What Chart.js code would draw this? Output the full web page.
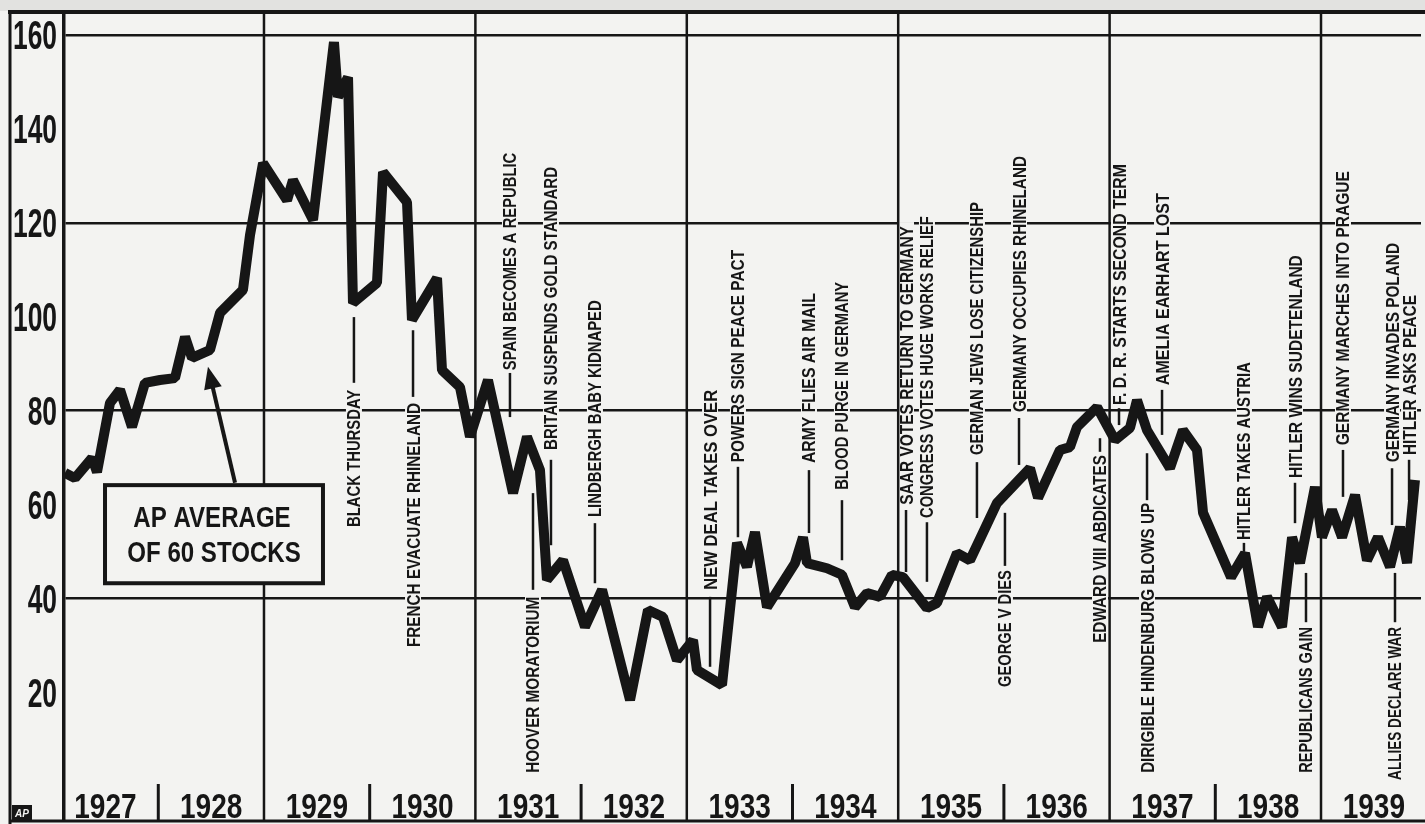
<!DOCTYPE html>
<html lang="en">
<head>
<meta charset="UTF-8">
<title>AP Average of 60 Stocks, 1927-1939</title>
<script src="https://cdn.jsdelivr.net/npm/chart.js"></script>
<style>
  html, body { margin: 0; padding: 0; background: #f3f3f1; }
  canvas { display: block; }
</style>
</head>
<body>
<canvas id="stockChart" width="1425" height="824"></canvas>
<script>
// stock average (x = date as decimal year)
const dates = [
  1927.117, 1927.212, 1927.373, 1927.420, 1927.543, 1927.638, 1927.751, 1927.874,
  1928.016, 1928.158, 1928.253, 1928.319, 1928.489, 1928.584, 1928.801, 1928.868,
  1928.991, 1929.218, 1929.274, 1929.464, 1929.662, 1929.700, 1929.795, 1929.842,
  1930.069, 1930.126, 1930.353, 1930.400, 1930.637, 1930.684, 1930.854, 1930.949,
  1931.119, 1931.356, 1931.488, 1931.611, 1931.677, 1931.829, 1932.037, 1932.198,
  1932.463, 1932.633, 1932.775, 1932.907, 1933.059, 1933.096, 1933.333, 1933.475,
  1933.569, 1933.645, 1933.759, 1934.024, 1934.099, 1934.137, 1934.326, 1934.468,
  1934.591, 1934.705, 1934.828, 1934.941, 1935.045, 1935.272, 1935.367, 1935.556,
  1935.679, 1935.935, 1936.247, 1936.323, 1936.531, 1936.625, 1936.692, 1936.881,
  1937.051, 1937.193, 1937.259, 1937.354, 1937.571, 1937.694, 1937.827, 1937.884,
  1938.149, 1938.281, 1938.404, 1938.489, 1938.631, 1938.726, 1938.801, 1938.943,
  1939.009, 1939.104, 1939.199, 1939.322, 1939.435, 1939.539, 1939.653, 1939.747,
  1939.814, 1939.889
];
const avgValues = [
  66.7, 65.6, 69.9, 66.9, 81.6, 84.4, 76.5, 85.9,
  86.5, 86.9, 95.7, 91.2, 92.9, 100.8, 105.7, 117.4,
  132.7, 124.8, 129.1, 120.6, 158.5, 146.8, 151.0, 102.9,
  107.2, 130.8, 124.4, 99.3, 108.2, 88.6, 85.0, 74.4,
  86.5, 62.4, 74.4, 67.3, 43.9, 48.1, 33.9, 41.8,
  18.3, 37.5, 36.0, 26.8, 31.1, 24.7, 21.5, 51.8,
  46.7, 54.1, 38.1, 47.5, 53.0, 47.5, 46.4, 45.0,
  38.1, 41.1, 40.3, 45.0, 44.5, 37.9, 39.0, 49.6,
  48.1, 60.3, 67.7, 61.4, 71.6, 72.2, 76.5, 80.7,
  73.7, 76.3, 82.2, 75.8, 67.7, 75.8, 71.6, 58.2,
  44.5, 49.6, 33.9, 40.3, 33.9, 53.0, 47.5, 63.7,
  53.0, 58.8, 53.0, 62.0, 48.1, 53.0, 46.7, 55.2,
  47.5, 65.2
];
const yearLabels = ["1927", "1928", "1929", "1930", "1931", "1932", "1933",
  "1934", "1935", "1936", "1937", "1938", "1939"];
const yTicks = [20, 40, 60, 80, 100, 120, 140, 160];
const gridValues = [40, 80, 120, 160];
const yearLines = [1929, 1931, 1933, 1935, 1937, 1939];
const yearSplits = [1928, 1930, 1932, 1934, 1936, 1938];

const eventNames = [
  "BLACK THURSDAY", "FRENCH EVACUATE RHINELAND", "SPAIN BECOMES A REPUBLIC",
  "HOOVER MORATORIUM", "BRITAIN SUSPENDS GOLD STANDARD", "LINDBERGH BABY KIDNAPED",
  "NEW DEAL TAKES OVER", "POWERS SIGN PEACE PACT", "ARMY FLIES AIR MAIL",
  "BLOOD PURGE IN GERMANY", "SAAR VOTES RETURN TO GERMANY", "CONGRESS VOTES HUGE WORKS RELIEF",
  "GERMAN JEWS LOSE CITIZENSHIP", "GEORGE V DIES", "GERMANY OCCUPIES RHINELAND",
  "EDWARD VIII ABDICATES", "F. D. R. STARTS SECOND TERM", "DIRIGIBLE HINDENBURG BLOWS UP",
  "AMELIA EARHART LOST", "HITLER TAKES AUSTRIA", "HITLER WINS SUDETENLAND",
  "REPUBLICANS GAIN", "GERMANY MARCHES INTO PRAGUE", "GERMANY INVADES POLAND",
  "HITLER ASKS PEACE", "ALLIES DECLARE WAR"
];
const eventDates = [
  1929.851, 1930.410, 1931.327, 1931.545, 1931.715, 1932.131,
  1933.220, 1933.484, 1934.156, 1934.468, 1935.074, 1935.272,
  1935.745, 1936.010, 1936.143, 1936.909, 1937.089, 1937.354,
  1937.496, 1938.271, 1938.754, 1938.858, 1939.208, 1939.672,
  1939.833, 1939.700
];
// where each label sits, in y units: [text start, text end, leader from, leader to]
const eventLayout = [
  [55.2, 84.4, 85.9, 99.9], [29.6, 81.6, 82.9, 97.1], [88.6, 134.9, 78.6, 88.0],
  [2.8, 40.3, 41.8, 62.4], [71.6, 131.9, 51.3, 69.5], [57.3, 103.5, 43.2, 56.0],
  [41.8, 84.4, 25.4, 40.3], [69.0, 114.2, 53.0, 68.0], [68.8, 105.0, 53.9, 67.3],
  [63.1, 107.4, 48.1, 60.9], [59.9, 119.3, 45.6, 58.8], [57.1, 121.4, 43.5, 56.2],
  [70.5, 124.4, 57.1, 69.0], [21.1, 46.0, 46.9, 58.2], [79.7, 134.2, 68.4, 78.4],
  [30.5, 70.5, 71.2, 74.1], [81.2, 132.5, 76.9, 80.5], [2.8, 60.3, 60.9, 70.9],
  [85.4, 126.3, 74.8, 84.4], [52.4, 90.3, 49.9, 51.8], [65.6, 113.1, 56.0, 64.6],
  [2.8, 33.9, 34.9, 45.4], [72.6, 131.0, 61.6, 71.6], [69.0, 115.7, 55.6, 67.7],
  [70.5, 104.6, 60.9, 69.5], [1.3, 33.9, 34.9, 45.4]
];

// the "AP AVERAGE" box and its arrow, in chart units
const apBox = { x0: 1927.496, x1: 1929.558, y0: 43.2, y1: 64.1 };
const apArrow = { x0: 1928.726, y0: 64.6, x1: 1928.470, y1: 89.3 };

const ink = "#161616";
const paper = "#f3f3f1";
const sans = '"Liberation Sans", Arial, sans-serif';

// text squeezed sideways, like the condensed newspaper type
function squeezed(ctx, text, x, y, font, sx, align) {
  ctx.save();
  ctx.font = font;
  ctx.textAlign = align;
  ctx.textBaseline = "alphabetic";
  ctx.translate(x, y);
  ctx.scale(sx, 1);
  ctx.fillText(text, 0, 0);
  ctx.restore();
}

function verticalText(ctx, text, px, top, bottom) {
  ctx.save();
  ctx.font = "bold 18px " + sans;
  const w = ctx.measureText(text).width;
  ctx.translate(px, bottom);
  ctx.rotate(-Math.PI / 2);
  ctx.scale((bottom - top) / w, 1);
  ctx.fillStyle = ink;
  ctx.textAlign = "left";
  ctx.textBaseline = "alphabetic";
  ctx.fillText(text, 0, 6.5);
  ctx.restore();
}

function line(ctx, x0, y0, x1, y1, w) {
  ctx.lineWidth = w;
  ctx.beginPath();
  ctx.moveTo(x0, y0);
  ctx.lineTo(x1, y1);
  ctx.stroke();
}

const newsprint = {
  id: "newsprint",
  beforeDraw(chart) {
    const ctx = chart.ctx;
    ctx.save();
    ctx.fillStyle = paper;
    ctx.fillRect(0, 0, chart.width, chart.height);
    ctx.fillStyle = "#e2e2e0";
    ctx.fillRect(0, 0, chart.width, 11);
    ctx.restore();
  },
  beforeDatasetsDraw(chart) {
    const { ctx, chartArea: a, scales: { x, y } } = chart;
    ctx.save();
    ctx.strokeStyle = ink;

    // labels break the grid lines behind them
    ctx.fillStyle = paper;
    eventNames.forEach((name, i) => {
      const px = x.getPixelForValue(eventDates[i]);
      const top = y.getPixelForValue(eventLayout[i][1]);
      const bot = y.getPixelForValue(eventLayout[i][0]);
      ctx.fillRect(px - 8, top - 4, 16, bot - top + 8);
    });

    yearLines.forEach(yr => {
      const px = x.getPixelForValue(yr);
      line(ctx, px, a.top, px, a.bottom, 2.5);
    });
    yearSplits.forEach(yr => {
      const px = x.getPixelForValue(yr);
      line(ctx, px, a.bottom - 36, px, a.bottom, 3);
    });

    eventNames.forEach((name, i) => {
      const [lo, hi, l0, l1] = eventLayout[i];
      const px = x.getPixelForValue(eventDates[i]);
      verticalText(ctx, name, px, y.getPixelForValue(hi), y.getPixelForValue(lo));
      line(ctx, px, y.getPixelForValue(l0), px, y.getPixelForValue(l1), 2.5);
    });

    // AP average box
    const bx0 = x.getPixelForValue(apBox.x0), bx1 = x.getPixelForValue(apBox.x1);
    const by0 = y.getPixelForValue(apBox.y1), by1 = y.getPixelForValue(apBox.y0);
    ctx.fillStyle = paper;
    ctx.fillRect(bx0, by0, bx1 - bx0, by1 - by0);
    ctx.lineWidth = 4;
    ctx.strokeRect(bx0, by0, bx1 - bx0, by1 - by0);
    ctx.fillStyle = ink;
    const cx = (bx0 + bx1) / 2;
    squeezed(ctx, "AP AVERAGE", cx - 2, by0 + 42, "bold 29px " + sans, 0.83, "center");
    squeezed(ctx, "OF 60 STOCKS", cx, by0 + 77, "bold 29px " + sans, 0.83, "center");

    // arrow
    const ax0 = x.getPixelForValue(apArrow.x0), ay0 = y.getPixelForValue(apArrow.y0);
    const ax1 = x.getPixelForValue(apArrow.x1), ay1 = y.getPixelForValue(apArrow.y1);
    const ang = Math.atan2(ay1 - ay0, ax1 - ax0);
    line(ctx, ax0, ay0, ax1 - 6 * Math.cos(ang), ay1 - 6 * Math.sin(ang), 4);
    ctx.beginPath();
    ctx.moveTo(ax1, ay1);
    ctx.lineTo(ax1 - 22 * Math.cos(ang) + 9 * Math.sin(ang), ay1 - 22 * Math.sin(ang) - 9 * Math.cos(ang));
    ctx.lineTo(ax1 - 22 * Math.cos(ang) - 9 * Math.sin(ang), ay1 - 22 * Math.sin(ang) + 9 * Math.cos(ang));
    ctx.closePath();
    ctx.fill();
    ctx.restore();
  },
  afterDraw(chart) {
    const { ctx, chartArea: a, scales: { x, y } } = chart;
    ctx.save();
    ctx.fillStyle = ink;
    ctx.strokeStyle = ink;

    // y labels, tall and condensed
    y.ticks.forEach(t => {
      squeezed(ctx, String(t.value), a.left - 7, y.getPixelForValue(t.value) + 14.5,
        "bold 40px " + sans, 0.66, "right");
    });

    // years along the bottom
    yearLabels.forEach(lbl => {
      squeezed(ctx, lbl, x.getPixelForValue(Number(lbl) + 0.5), a.bottom - 2,
        "bold 35px " + sans, 0.8, "center");
    });

    // frame
    line(ctx, 8, a.top, chart.width, a.top, 4);
    line(ctx, 10, a.top, 10, chart.height, 3);
    line(ctx, 10, a.bottom + 1, chart.width, a.bottom + 1, 3);

    // AP logo
    ctx.fillRect(12, 805, 20, 16);
    ctx.fillStyle = paper;
    ctx.font = "bold italic 10px " + sans;
    ctx.textAlign = "center";
    ctx.fillText("AP", 22, 817);
    ctx.restore();
  }
};

new Chart(document.getElementById("stockChart"), {
  type: "line",
  data: {
    datasets: [{
      label: "AP average of 60 stocks",
      data: dates.map((d, i) => ({ x: d, y: avgValues[i] })),
      borderColor: ink,
      borderWidth: 10,
      borderJoinStyle: "bevel",
      pointRadius: 0,
      tension: 0,
      fill: false
    }]
  },
  options: {
    responsive: false,
    animation: false,
    devicePixelRatio: 1,
    layout: { padding: { top: 12, right: 4, bottom: 4, left: 0 } },
    plugins: { legend: { display: false }, tooltip: { enabled: false } },
    scales: {
      x: { type: "linear", min: 1927.108, max: 1939.946, display: false },
      y: {
        min: -7.24,
        max: 164.9,
        afterBuildTicks: s => { s.ticks = yTicks.map(v => ({ value: v })); },
        afterFit: s => { s.width = 64; },
        ticks: { display: false },
        grid: {
          drawTicks: false,
          lineWidth: 2.5,
          color: c => (c.tick && gridValues.includes(c.tick.value)) ? ink : "rgba(0,0,0,0)"
        },
        border: { display: true, color: ink, width: 3.5 }
      }
    }
  },
  plugins: [newsprint]
});
</script>
</body>
</html>
